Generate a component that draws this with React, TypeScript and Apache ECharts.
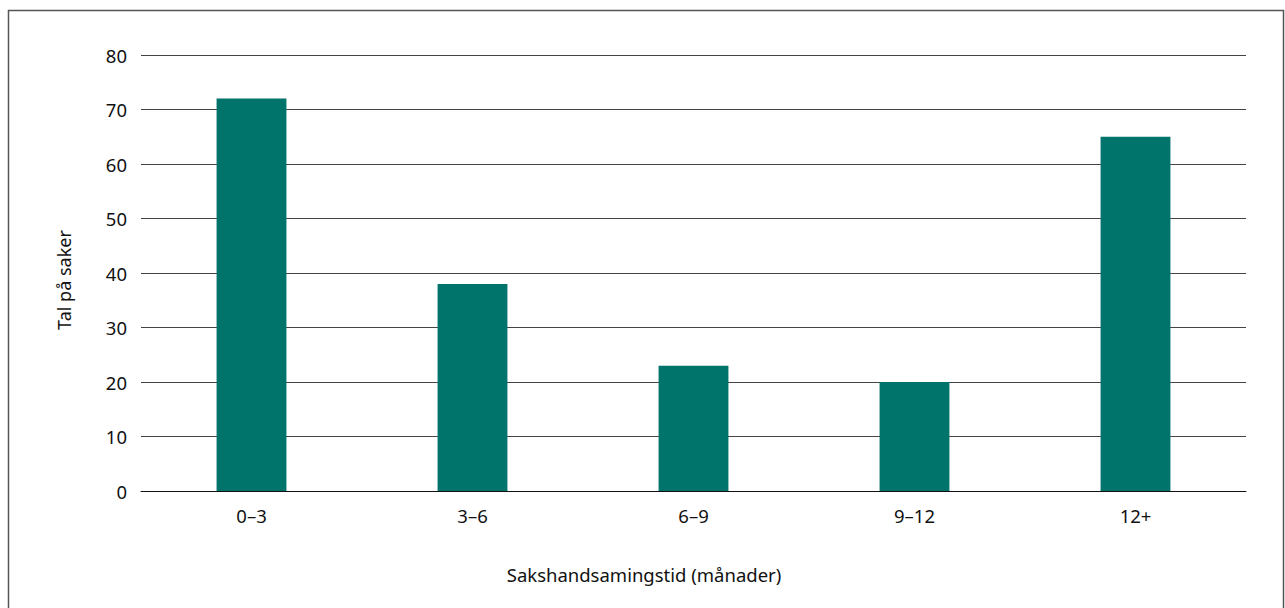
import React, { useEffect, useRef } from "react";
import * as echarts from "echarts";

const categories = ["0–3", "3–6", "6–9", "9–12", "12+"];
const caseCounts = [72, 38, 23, 20, 65];
const yTicks = { min: 0, max: 80, interval: 10 };
const xTitle = "Sakshandsamingstid (månader)";
const yTitle = "Tal på saker";

const FONT = "'Noto Sans', sans-serif";
const TEXT = "#111111";

export default function App() {
  const ref = useRef<HTMLDivElement>(null);

  useEffect(() => {
    if (!ref.current) return;
    const chart = echarts.init(ref.current, undefined, { renderer: "svg" });
    chart.setOption({
      animation: false,
      backgroundColor: "#ffffff",
      textStyle: { fontFamily: FONT },
      grid: { left: 141, right: 39, top: 55, bottom: 117 },
      xAxis: {
        type: "category",
        data: categories,
        axisLine: { show: true, lineStyle: { color: "#111", width: 1 } },
        axisTick: { show: false },
        axisLabel: { color: TEXT, fontSize: 18.5, fontFamily: FONT, margin: 15 },
      },
      yAxis: {
        type: "value",
        min: yTicks.min,
        max: yTicks.max,
        interval: yTicks.interval,
        axisLine: { show: false },
        axisTick: { show: false },
        axisLabel: { color: TEXT, fontSize: 18.5, fontFamily: FONT, margin: 14 },
        splitLine: { lineStyle: { color: "#444", width: 1 } },
      },
      series: [
        {
          type: "bar",
          data: caseCounts,
          barWidth: "31.6%",
          itemStyle: { color: "#00736b" },
        },
      ],
      graphic: [
        {
          type: "rect",
          shape: { x: 8.5, y: 10.5, width: 1275, height: 640 },
          style: { fill: "none", stroke: "#555", lineWidth: 1.5 },
          silent: true,
        },
        {
          type: "text",
          x: 644,
          y: 574,
          style: {
            text: xTitle,
            fill: TEXT,
            font: `18.5px ${FONT}`,
            align: "center",
            verticalAlign: "middle",
          },
        },
        {
          type: "text",
          x: 64,
          y: 280,
          rotation: Math.PI / 2,
          style: {
            text: yTitle,
            fill: TEXT,
            font: `18px ${FONT}`,
            align: "center",
            verticalAlign: "middle",
          },
        },
      ],
    });
    return () => chart.dispose();
  }, []);

  return (
    <div
      ref={ref}
      style={{ position: "absolute", left: 0, top: 0, width: 1285, height: 608 }}
    />
  );
}
